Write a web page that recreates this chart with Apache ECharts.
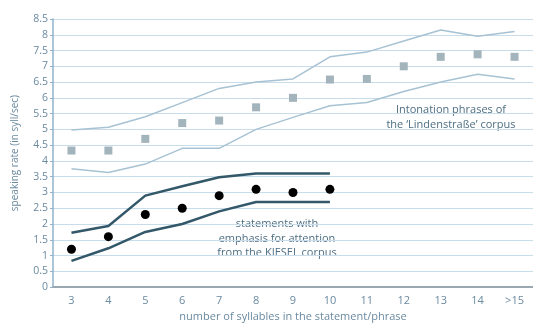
<!DOCTYPE html>
<html><head><meta charset="utf-8">
<script src="https://cdn.jsdelivr.net/npm/echarts@6/dist/echarts.min.js"></script>
<style>html,body{margin:0;padding:0;background:#fff}#c{width:533px;height:327px}</style>
</head><body><div id="c"></div>
<script>
const categories = ['3','4','5','6','7','8','9','10','11','12','13','14','>15'];
const lindenMean  = [4.33,4.33,4.7,5.2,5.28,5.7,6.0,6.58,6.6,7.0,7.3,7.38,7.3];
const lindenUpper = [4.98,5.07,5.4,5.85,6.3,6.5,6.6,7.3,7.45,7.8,8.15,7.95,8.1];
const lindenLower = [3.75,3.63,3.9,4.4,4.4,5.0,5.38,5.75,5.85,6.2,6.5,6.75,6.6];
const kieselMean  = [1.2,1.6,2.3,2.5,2.9,3.1,3.0,3.1];
const kieselUpper = [1.72,1.94,2.9,3.2,3.48,3.6,3.6,3.6];
const kieselLower = [0.83,1.23,1.75,2.0,2.4,2.7,2.7,2.7];
const kieselText = ['statements with','emphasis for attention','from the KIESEL corpus'];
const lindenText = ['Intonation phrases of','the \u2018Lindenstra\u00dfe\u2019 corpus'];

const chart = echarts.init(document.getElementById('c'));
const font = 'Open Sans, DejaVu Sans, sans-serif';
const txtColor = '#6a8aa0';
chart.setOption({
  animation:false,
  grid:{left:53, right:-8, top:19, bottom:32},
  xAxis:{type:'category', data:categories, boundaryGap:true,
    name:'number of syllables in the statement/phrase', nameLocation:'middle', nameGap:18,
    nameTextStyle:{color:txtColor, fontSize:11, fontFamily:font},
    axisLine:{lineStyle:{color:'#9aa8b2', width:2}},
    axisTick:{show:false},
    axisLabel:{color:txtColor, fontSize:11, fontFamily:font, margin:8}},
  yAxis:{type:'value', min:0, max:8.5, interval:0.5,
    name:'speaking rate (in syll/sec)', nameLocation:'middle', nameGap:33,
    nameTextStyle:{color:txtColor, fontSize:10, fontFamily:font},
    axisLine:{show:true, lineStyle:{color:'#8fb3cc', width:1.5}},
    axisTick:{show:true, length:3, lineStyle:{color:'#8fb3cc'}},
    axisLabel:{color:txtColor, fontSize:10.5, fontFamily:font, margin:5},
    splitLine:{lineStyle:{color:'#c9dcea', width:1}}},
  series:[
    {type:'line', data:lindenUpper, symbol:'none', lineStyle:{color:'#a7c2d3', width:1.5}},
    {type:'line', data:lindenLower, symbol:'none', lineStyle:{color:'#a7c2d3', width:1.5}},
    {type:'scatter', data:lindenMean, symbol:'rect', symbolSize:8, itemStyle:{color:'#a3b4bd', opacity:1}},
    {type:'line', data:kieselUpper, symbol:'none', lineStyle:{color:'#33586a', width:2.5}},
    {type:'line', data:kieselLower, symbol:'none', lineStyle:{color:'#33586a', width:2.5}},
    {type:'scatter', data:kieselMean, symbol:'circle', symbolSize:9, itemStyle:{color:'#000', opacity:1}}
  ],
  graphic:[
    {type:'text', x:277, y:217, style:{text:kieselText.join('\n'), fill:'#4d6e82', font:'11px '+font, textAlign:'center', lineHeight:14.5}},
    {type:'text', x:451, y:103, style:{text:lindenText.join('\n'), fill:'#4d6e82', font:'11px '+font, textAlign:'center', lineHeight:14.5}}
  ]
});
</script></body></html>
